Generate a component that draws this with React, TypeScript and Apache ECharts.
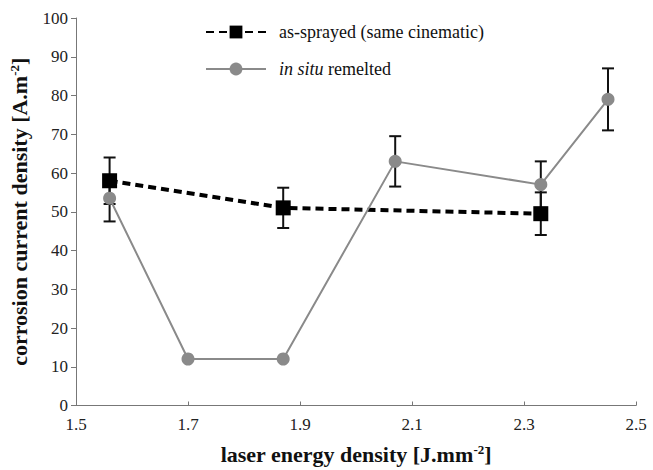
import React, { useEffect, useRef } from "react";
import * as echarts from "echarts";

// Laser energy density [J.mm-2] for each sample set
const sprayedX = [1.56, 1.87, 2.33];
const sprayedY = [58, 51, 49.5];
const sprayedErr = [6, 5.2, 5.5];

const remeltedX = [1.56, 1.7, 1.87, 2.07, 2.33, 2.45];
const remeltedY = [53.5, 12, 12, 63, 57, 79];
const remeltedErr = [6, 0, 0, 6.5, 6, 8];

const xTicks = [1.5, 1.7, 1.9, 2.1, 2.3, 2.5];

const SERIF = "'Liberation Serif', 'Times New Roman', serif";

function pairs(xs: number[], ys: number[]) {
  return xs.map((x, i) => [x, ys[i]]);
}

function errData(xs: number[], ys: number[], es: number[]) {
  return xs.map((x, i) => [x, ys[i], es[i]]).filter((d) => d[2] > 0);
}

function renderErrorBar(params: any, api: any) {
  const x = api.value(0);
  const y = api.value(1);
  const e = api.value(2);
  const top = api.coord([x, y + e]);
  const bot = api.coord([x, y - e]);
  const w = 6;
  const style = { stroke: "#111", lineWidth: 2 };
  return {
    type: "group",
    children: [
      { type: "line", shape: { x1: top[0], y1: top[1], x2: bot[0], y2: bot[1] }, style },
      { type: "line", shape: { x1: top[0] - w, y1: top[1], x2: top[0] + w, y2: top[1] }, style },
      { type: "line", shape: { x1: bot[0] - w, y1: bot[1], x2: bot[0] + w, y2: bot[1] }, style },
    ],
  };
}

const titleStyle = {
  fontFamily: SERIF,
  fontSize: 22,
  fontWeight: "bold",
  color: "#111",
  rich: {
    sup: {
      fontFamily: SERIF,
      fontSize: 13,
      fontWeight: "bold",
      color: "#111",
      verticalAlign: "top",
      padding: [0, 0, 10, 0],
    },
  },
};

export default function App() {
  const ref = useRef<HTMLDivElement>(null);

  useEffect(() => {
    document.body.style.margin = "0";
    if (!ref.current) return;
    const chart = echarts.init(ref.current, undefined, { renderer: "svg" });
    chart.setOption({
      animation: false,
      textStyle: { fontFamily: SERIF },
      grid: { left: 73, right: 17, top: 18, bottom: 60 },
      legend: {
        orient: "vertical",
        left: 200,
        top: 18,
        itemWidth: 60,
        itemHeight: 16,
        itemGap: 19,
        data: ["as-sprayed (same cinematic)", "in situ remelted"],
        formatter: (name: string) =>
          name === "in situ remelted" ? "{i|in situ} remelted" : name,
        textStyle: {
          fontFamily: SERIF,
          fontSize: 18,
          color: "#111",
          padding: [0, 0, 0, 8],
          rich: {
            i: { fontFamily: SERIF, fontSize: 18, fontStyle: "italic", color: "#111" },
          },
        },
      },
      xAxis: {
        type: "value",
        min: 1.5,
        max: 2.5,
        interval: 0.2,
        name: "laser energy density [J.mm{sup|-2}]",
        nameLocation: "middle",
        nameGap: 37,
        nameTextStyle: titleStyle,
        axisLine: { lineStyle: { color: "#777", width: 1 } },
        axisTick: { inside: true, length: 4, lineStyle: { color: "#777" } },
        splitLine: { show: false },
        axisLabel: {
          fontFamily: SERIF,
          fontSize: 17,
          color: "#222",
          margin: 10,
          formatter: (v: number) => {
            const t = xTicks.find((k) => Math.abs(k - v) < 1e-6);
            return t !== undefined ? t.toFixed(1) : "";
          },
        },
      },
      yAxis: {
        type: "value",
        min: 0,
        max: 100,
        interval: 10,
        name: "corrosion current density [A.m{sup|-2}]",
        nameLocation: "middle",
        nameGap: 45,
        nameTextStyle: titleStyle,
        axisLine: { show: true, lineStyle: { color: "#777", width: 1 } },
        axisTick: { show: true, length: 5, lineStyle: { color: "#777" } },
        splitLine: { show: false },
        axisLabel: { fontFamily: SERIF, fontSize: 17, color: "#222", margin: 8 },
      },
      series: [
        {
          name: "err-sprayed",
          type: "custom",
          renderItem: renderErrorBar,
          data: errData(sprayedX, sprayedY, sprayedErr),
          encode: { x: 0, y: 1 },
          z: 1,
          silent: true,
        },
        {
          name: "err-remelted",
          type: "custom",
          renderItem: renderErrorBar,
          data: errData(remeltedX, remeltedY, remeltedErr),
          encode: { x: 0, y: 1 },
          z: 1,
          silent: true,
        },
        {
          name: "as-sprayed (same cinematic)",
          type: "line",
          data: pairs(sprayedX, sprayedY),
          symbol: "rect",
          symbolSize: 15,
          itemStyle: { color: "#000" },
          lineStyle: { color: "#000", width: 4, type: [8, 5] },
          z: 2,
        },
        {
          name: "in situ remelted",
          type: "line",
          data: pairs(remeltedX, remeltedY),
          symbol: "circle",
          symbolSize: 13,
          itemStyle: { color: "#8a8a8a" },
          lineStyle: { color: "#8a8a8a", width: 2 },
          z: 3,
        },
      ],
    });
    return () => chart.dispose();
  }, []);

  return <div ref={ref} style={{ width: 653, height: 470 }} />;
}
